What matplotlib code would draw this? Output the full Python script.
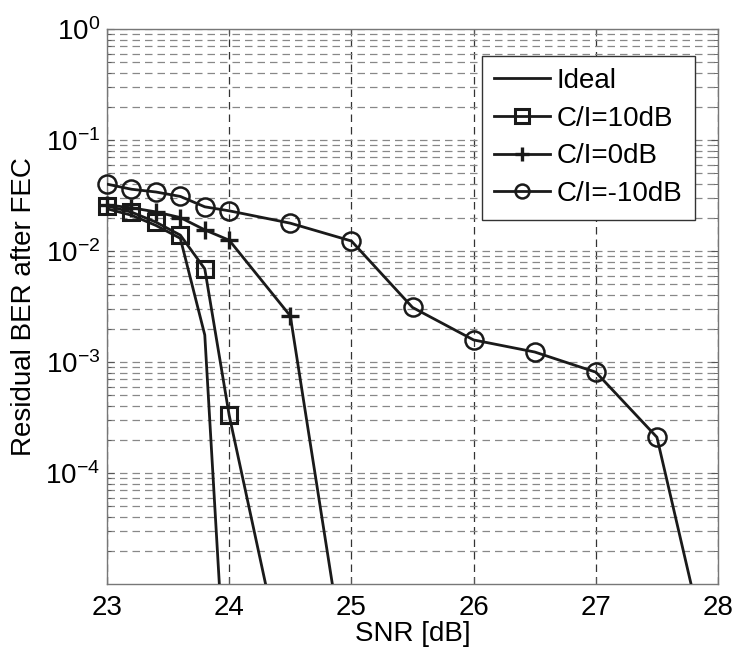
import numpy as np
import matplotlib
matplotlib.use("Agg")
import matplotlib.pyplot as plt
from matplotlib.ticker import LogLocator, NullFormatter, FixedLocator

plt.rcParams['font.family'] = ['Liberation Sans', 'DejaVu Sans']
plt.rcParams['mathtext.fontset'] = 'custom'
plt.rcParams['mathtext.rm'] = 'Liberation Sans'
plt.rcParams['mathtext.it'] = 'Liberation Sans'
plt.rcParams['mathtext.default'] = 'regular'

# Data
snr_ideal = [23.0, 23.2, 23.4, 23.6, 23.8, 24.0]
ber_ideal = [2.4e-2, 2.1e-2, 1.7e-2, 1.3e-2, 1.75e-3, 3e-7]

snr_10 = [23.0, 23.2, 23.4, 23.6, 23.8, 24.0, 24.4]
ber_10 = [2.55e-2, 2.24e-2, 1.82e-2, 1.39e-2, 6.9e-3, 3.3e-4, 3e-6]

snr_0 = [23.0, 23.2, 23.4, 23.6, 23.8, 24.0, 24.5, 25.0]
ber_0 = [2.6e-2, 2.45e-2, 2.25e-2, 2.0e-2, 1.55e-2, 1.25e-2, 2.6e-3, 8e-7]

snr_m10 = [23.0, 23.2, 23.4, 23.6, 23.8, 24.0, 24.5, 25.0, 25.5, 26.0, 26.5, 27.0, 27.5, 28.0]
ber_m10 = [4.0e-2, 3.6e-2, 3.4e-2, 3.1e-2, 2.5e-2, 2.3e-2, 1.78e-2, 1.23e-2,
           3.1e-3, 1.58e-3, 1.23e-3, 8.1e-4, 2.1e-4, 9e-7]

x_ticks = [23, 24, 25, 26, 27, 28]
y_ticks = [1e-4, 1e-3, 1e-2, 1e-1, 1e0]
y_min = 1e-5

fig = plt.figure(figsize=(7.35, 6.57), dpi=100)
ax = fig.add_axes([0.1456, 0.1111, 0.8313, 0.8448])

lc = '#1a1a1a'
lw = 2.0
series = [
    (snr_ideal, ber_ideal, None, {}, 'Ideal'),
    (snr_10, ber_10, 's', dict(ms=12, mfc='none', mew=2.2), 'C/I=10dB'),
    (snr_0, ber_0, '+', dict(ms=13, mew=2.4), 'C/I=0dB'),
    (snr_m10, ber_m10, 'o', dict(ms=13, mfc='none', mew=1.8), 'C/I=-10dB'),
]
handles = []
for x, y, mk, kw, lab in series:
    ax.plot(x, y, '-', color=lc, lw=lw, zorder=3)
    if mk:
        # markers inside the axes range are drawn unclipped, as in the original
        xs = [a for a, b in zip(x, y) if b >= y_min]
        ys = [b for b in y if b >= y_min]
        ax.plot(xs, ys, linestyle='none', marker=mk, color=lc, clip_on=False, zorder=4, **kw)
    h, = ax.plot([], [], '-', color=lc, lw=lw, marker=mk, label=lab,
                 **{k: v for k, v in kw.items() if k != 'ms'}, ms=10 if mk else 0)
    handles.append(h)

ax.set_yscale('log')
ax.set_xlim(23, 28)
ax.set_ylim(y_min, 1)
ax.set_xticks(x_ticks)
ax.yaxis.set_major_locator(FixedLocator(y_ticks))
ax.yaxis.set_minor_locator(LogLocator(base=10, subs=np.arange(2, 10)))
ax.yaxis.set_minor_formatter(NullFormatter())

ax.grid(True, which='major', axis='x', color='#333333', linestyle=(0, (6, 4)), lw=0.9)
ax.grid(True, which='both', axis='y', color='#888888', linestyle=(0, (6, 4)), lw=0.9)

for s in ax.spines.values():
    s.set_color('#777777')
    s.set_linewidth(1.0)
ax.tick_params(which='both', direction='in', top=True, right=True, color='#555555')
ax.tick_params(which='major', length=5, labelsize=20)
ax.tick_params(axis='x', which='major', pad=8)
ax.tick_params(axis='y', which='major', pad=5)
ax.tick_params(which='minor', length=3)

ax.set_xlabel('SNR [dB]', fontsize=20, labelpad=0)
ax.set_ylabel('Residual BER after FEC', fontsize=20, labelpad=6)

leg = ax.legend(handles=handles, loc='upper right', bbox_to_anchor=(0.962, 0.952), fontsize=20,
                handlelength=2.0, handletextpad=0.25, labelspacing=0.42,
                borderpad=0.45, borderaxespad=0, fancybox=False, framealpha=1,
                edgecolor='#333333')
leg.get_frame().set_linewidth(1.0)
leg.set_zorder(5)

fig.savefig('out.png', dpi=100)
